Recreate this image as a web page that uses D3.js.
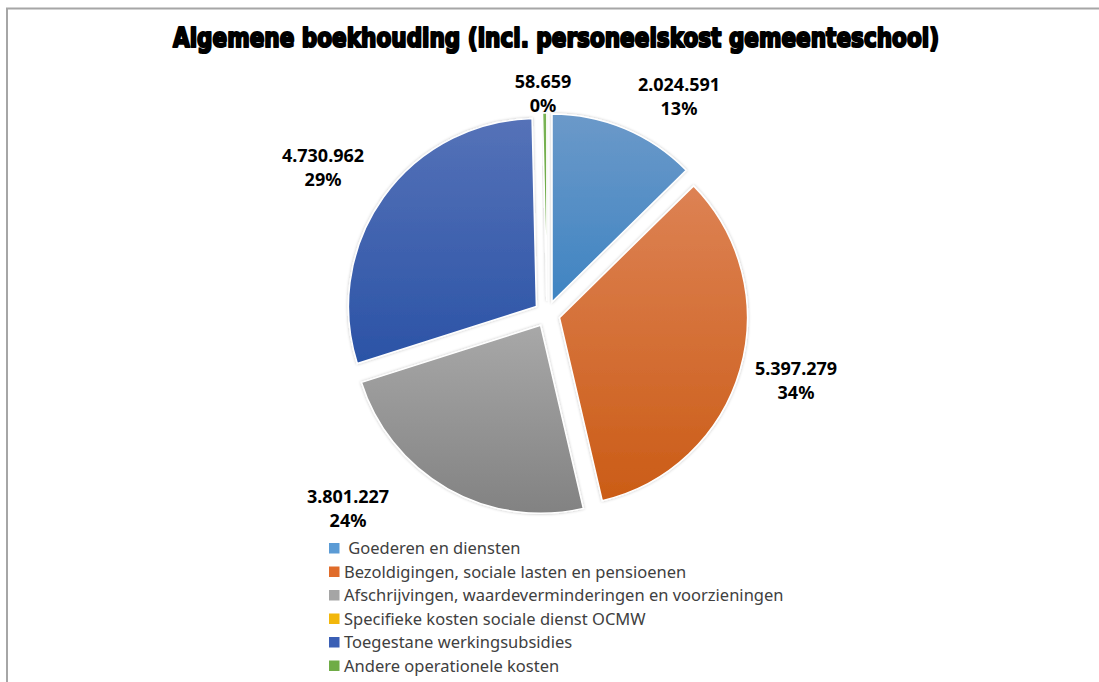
<!DOCTYPE html>
<html>
<head>
<meta charset="utf-8">
<style>
  body { margin: 0; background: #fff; }
  text { font-family: "Noto Sans", "Open Sans", sans-serif; }
  .lbl { font-weight: bold; font-size: 18px; fill: #000; }
  .leg { font-size: 16.5px; fill: #404040; }
</style>
<script src="https://d3js.org/d3.v7.min.js"></script>
</head>
<body>
<script>

    var categories = [" Goederen en diensten",
                      "Bezoldigingen, sociale lasten en pensioenen",
                      "Afschrijvingen, waardeverminderingen en voorzieningen",
                      "Specifieke kosten sociale dienst OCMW",
                      "Toegestane werkingsubsidies",
                      "Andere operationele kosten"];
    var values = [2024591, 5397279, 3801227, 0, 4730962, 58659];
    var percentLabels = ["13%", "34%", "24%", "0%", "29%", "0%"];
    // legend colour, gradient top, gradient bottom
    var colors = ["#5b9bd5", "#e06c2a", "#a5a5a5", "#f2b70b", "#3a5fb5", "#6fac46"];
    var gradTop = ["#6b99c9", "#dd8254", "#a8a8a8", "#f5c233", "#5572b8", "#7ab455"];
    var gradBot = ["#3f84c2", "#cb5c16", "#828282", "#e0a800", "#2b53a6", "#5f9e38"];

    var width = 1099, height = 682;
    var cx = 547, cy = 314, radius = 188, explode = 13;

    var svg = d3.select("body").append("svg")
        .attr("width", width)
        .attr("height", height);

    // chart border (runs off the right and bottom)
    svg.append("rect")
        .attr("x", 7).attr("y", 8.5)
        .attr("width", 1300).attr("height", 900)
        .attr("fill", "none")
        .attr("stroke", "#a6a6a6")
        .attr("stroke-width", 2);

    // title
    svg.append("text")
        .attr("x", 556).attr("y", 47)
        .attr("text-anchor", "middle")
        .attr("textLength", 766)
        .attr("lengthAdjust", "spacingAndGlyphs")
        .style("font-family", "'DejaVu Sans'")
        .style("font-weight", "bold")
        .style("font-size", "26px")
        .style("stroke", "#000")
        .style("stroke-width", "2.2px")
        .style("stroke-linejoin", "round")
        .text("Algemene boekhouding (incl. personeelskost gemeenteschool)");

    var defs = svg.append("defs");
    values.forEach(function(v, i) {
      var g = defs.append("linearGradient")
          .attr("id", "grad" + i)
          .attr("x1", 0).attr("y1", 0).attr("x2", 0).attr("y2", 1);
      g.append("stop").attr("offset", "0%").attr("stop-color", gradTop[i]);
      g.append("stop").attr("offset", "100%").attr("stop-color", gradBot[i]);
    });

    var shadow = defs.append("filter").attr("id", "soft")
        .attr("x", "-10%").attr("y", "-10%").attr("width", "120%").attr("height", "120%");
    shadow.append("feGaussianBlur").attr("in", "SourceAlpha").attr("stdDeviation", 1.6).attr("result", "b");
    shadow.append("feFlood").attr("flood-color", "#000").attr("flood-opacity", 0.25);
    shadow.append("feComposite").attr("in2", "b").attr("operator", "in").attr("result", "s");
    var mrg = shadow.append("feMerge");
    mrg.append("feMergeNode").attr("in", "s");
    mrg.append("feMergeNode").attr("in", "SourceGraphic");

    var pie = d3.pie().sort(null).value(function(d) { return d; });
    var arcs = pie(values);
    var arc = d3.arc().innerRadius(0).outerRadius(radius);

    var fmt = d3.formatLocale({decimal: ",", thousands: ".", grouping: [3], currency: ["€", ""]}).format(",d");

    var pieG = svg.append("g").attr("transform", "translate(" + cx + "," + cy + ")");

    pieG.selectAll("path")
      .data(arcs.filter(function(d) { return d.value > 0; }))
      .enter().append("path")
      .attr("d", arc)
      .attr("transform", function(d) {
        var a = (d.startAngle + d.endAngle) / 2;
        return "translate(" + (explode * Math.sin(a)) + "," + (-explode * Math.cos(a)) + ")";
      })
      .attr("fill", function(d) { return "url(#grad" + d.index + ")"; })
      .attr("stroke", "#fff")
      .attr("stroke-width", 1.5)
      .attr("filter", "url(#soft)");

    // data labels, positioned relative to the pie centre
    var labelPos = [[132, -223], [249, 61], [-199, 189], null, [-224, -152], [-4, -226]];
    arcs.forEach(function(d, i) {
      if (!labelPos[i]) return;
      var t = pieG.append("text").attr("class", "lbl")
          .attr("text-anchor", "middle")
          .attr("x", labelPos[i][0]).attr("y", labelPos[i][1]);
      t.append("tspan").attr("x", labelPos[i][0]).text(fmt(d.value));
      t.append("tspan").attr("x", labelPos[i][0]).attr("dy", 24).text(percentLabels[i]);
    });

    // legend
    var leg = svg.append("g").attr("transform", "translate(329,548)");
    var rows = leg.selectAll("g").data(categories).enter().append("g")
        .attr("transform", function(d, i) { return "translate(0," + (i * 23.5) + ")"; });
    rows.append("rect")
        .attr("x", 0).attr("y", -5).attr("width", 10.5).attr("height", 10.5)
        .attr("fill", function(d, i) { return colors[i]; });
    rows.append("text").attr("class", "leg")
        .attr("x", 15).attr("y", 6)
        .attr("xml:space", "preserve")
        .style("white-space", "pre")
        .text(function(d) { return d; });

</script>
</body>
</html>
